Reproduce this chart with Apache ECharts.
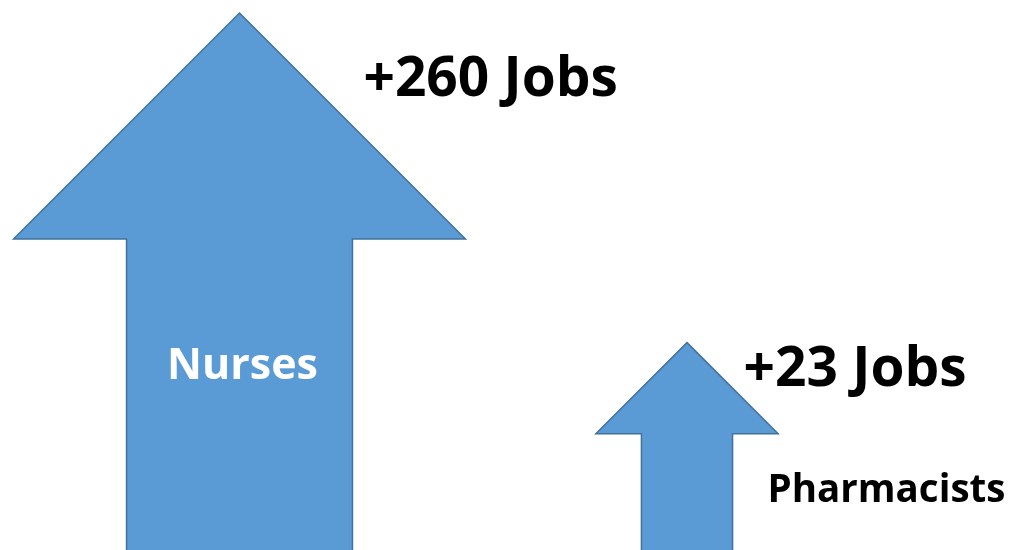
<!DOCTYPE html>
<html lang="en">
<head>
    <meta charset="UTF-8">
    <title>Jobs</title>
    <script src="https://cdn.jsdelivr.net/npm/echarts@6/dist/echarts.min.js"></script>
    <style>
        html, body { margin: 0; padding: 0; background: #fff; }
    </style>
</head>
<body>
    <div id="main" style="width: 1012px;height:550px;"></div>

    <script type="text/javascript">
        // 数据
        var roles = ['Nurses', 'Pharmacists'];
        var jobs = [260, 23];
        var axisMin = 5;

        var font = '"Open Sans", "DejaVu Sans", sans-serif';

        function renderArrow(params, api) {
            var i = params.dataIndex;
            var tip = api.coord([api.value(0), api.value(1)]);
            var base = api.coord([api.value(0), axisMin]);
            var cx = tip[0];
            var h = base[1] - tip[1];
            var hw = 0.818 * h + 12.6;   // head width
            var hh = hw / 2;             // head height
            var sw = hw / 2;             // shaft width
            var neck = tip[1] + hh;
            var bottom = base[1] + 6;

            var children = [{
                type: 'polygon',
                shape: {
                    points: [
                        [cx, tip[1]],
                        [cx + hw / 2, neck],
                        [cx + sw / 2, neck],
                        [cx + sw / 2, bottom],
                        [cx - sw / 2, bottom],
                        [cx - sw / 2, neck],
                        [cx - hw / 2, neck]
                    ]
                },
                style: {
                    fill: '#5B9BD5',
                    stroke: '#41719C',
                    lineWidth: 1.5
                }
            }, {
                type: 'text',
                style: {
                    text: '+' + jobs[i] + ' Jobs',
                    x: cx + hw / 4 + 11,
                    y: tip[1] + hh * 0.3,
                    fill: '#000',
                    font: 'bold 55px ' + font,
                    align: 'left',
                    verticalAlign: 'middle'
                }
            }];

            if (i === 0) {
                // 名称在箭头内
                children.push({
                    type: 'text',
                    style: {
                        text: roles[i],
                        x: cx + 3,
                        y: neck + (base[1] - neck) * 0.41,
                        fill: '#fff',
                        font: 'bold 43px ' + font,
                        align: 'center',
                        verticalAlign: 'middle'
                    }
                });
            } else {
                children.push({
                    type: 'text',
                    style: {
                        text: roles[i],
                        x: cx + sw / 2 + 35,
                        y: neck + (base[1] - neck) * 0.49,
                        fill: '#000',
                        font: 'bold 38.5px ' + font,
                        align: 'left',
                        verticalAlign: 'middle'
                    }
                });
            }

            return { type: 'group', children: children };
        }

        var myChart = echarts.init(document.getElementById('main'));
        myChart.setOption({
            animation: false,
            grid: { left: 15.75, right: 101.25, top: 13, bottom: 0 },
            xAxis: { type: 'category', data: roles, show: false },
            yAxis: { type: 'log', logBase: 10, min: axisMin, max: 260, show: false },
            series: [{
                type: 'custom',
                renderItem: renderArrow,
                clip: false,
                data: roles.map(function (r, i) { return [i, jobs[i]]; })
            }]
        });
    </script>
</body>
</html>
